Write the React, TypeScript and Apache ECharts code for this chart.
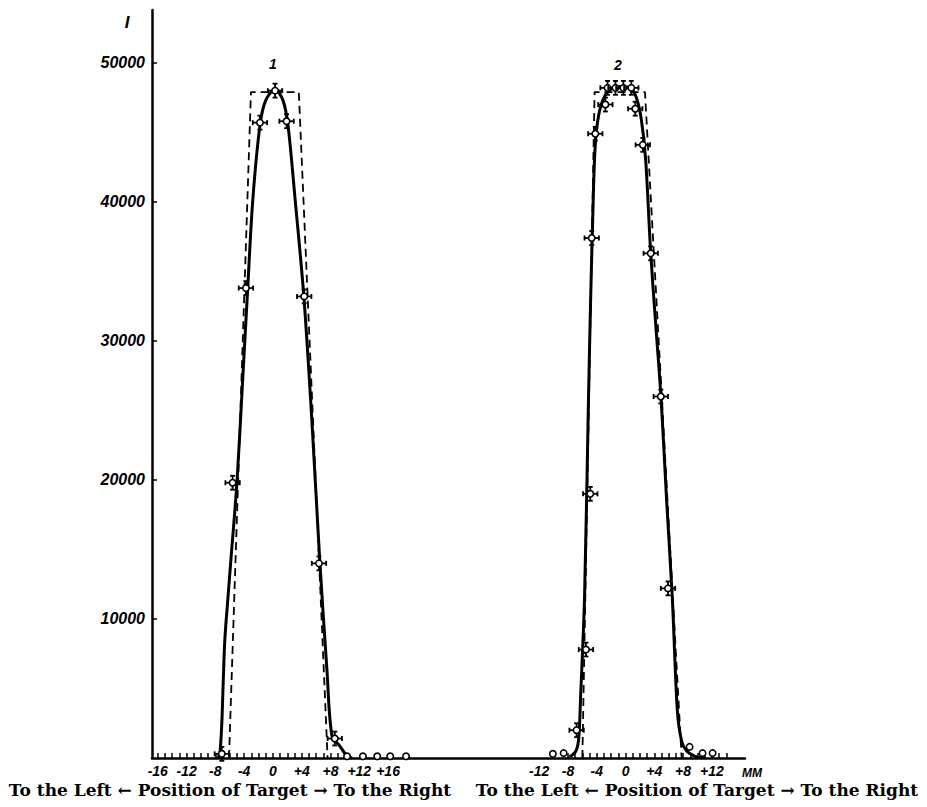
import React, { useEffect, useRef } from "react";
import * as echarts from "echarts";

// Offset (mm on the shared axis) of the zero of the second scan
const OFFSET2 = 49;

// Axis ticks and labels
const yTickValues = [10000, 20000, 30000, 40000, 50000];
const xLabels1 = [-16, -12, -8, -4, 0, 4, 8, 12, 16];
const xLabels2 = [-12, -8, -4, 0, 4, 8, 12];
const xTicks1 = [-16, -15, -14, -13, -12, -11, -10, -9, -8, -7, -6, -5, -4, -3, -2, -1, 0, 1, 2, 3, 4, 5, 6, 7, 8, 9];
const xTicks2 = [-8, -7, -6, -5, -4, -3, -2, -1, 0, 1, 2, 3, 4, 5, 6, 7, 8, 9, 10, 11, 12, 13, 14];

// Scan 1: measured points (position mm, intensity)
const pts1X = [-7.1, -5.6, -3.75, -1.8, 0.3, 1.9, 4.35, 6.4, 8.6];
const pts1Y = [300, 19800, 33800, 45700, 48000, 45800, 33200, 14000, 1400];
const circ1X = [10.3, 12.5, 14.5, 16.3, 18.5];
const circ1Y = [120, 120, 120, 120, 120];
// Scan 1: drawn curve
const curve1X = [-7.6, -7.35, -7.1, -6.9, -6.67, -6.25, -5.83, -5.0, -4.2, -3.5, -2.8, -1.8, -1.0, 0.3, 1.4, 2.1, 3.1, 4.3, 5.4, 6.5, 7.5, 8.2, 9.3, 10.3, 11.0];
const curve1Y = [0, 400, 2500, 5500, 8600, 11500, 14300, 19800, 27200, 33800, 40100, 45500, 47300, 48100, 47300, 45500, 40100, 33200, 24400, 14300, 6400, 1600, 860, 140, 0];
// Scan 1: ideal (dashed) profile
const ideal1X = [-6.1, -3.05, 3.6, 7.6];
const ideal1Y = [0, 47900, 47900, 0];

// Scan 2: measured points (position mm relative to its own zero, intensity)
const pts2X = [-6.8, -5.5, -4.9, -4.7, -4.2, -2.8, -2.5, -1.4, -0.3, 0.8, 1.35, 2.4, 3.5, 4.9, 5.9];
const pts2Y = [2000, 7800, 19000, 37400, 44900, 47000, 48200, 48200, 48200, 48200, 46700, 44100, 36300, 26000, 12200];
const circ2X = [-10.1, -8.6, 8.9, 10.7, 12.1];
const circ2Y = [300, 350, 800, 350, 350];
// Scan 2: drawn curve
const curve2X = [-7.8, -6.9, -6.5, -6.25, -5.7, -5.15, -4.85, -4.6, -4.25, -3.75, -2.9, -1.8, -0.55, 0.7, 1.5, 2.2, 2.8, 3.5, 4.25, 4.95, 5.7, 6.5, 7.2, 7.8, 8.5, 9.6, 11.0];
const curve2Y = [70, 500, 1430, 4300, 11500, 25800, 33000, 38000, 43700, 46200, 47600, 48200, 48300, 48200, 47500, 45900, 43000, 36300, 30800, 25800, 18600, 11500, 3400, 1200, 500, 140, 0];
// Scan 2: ideal (dashed) profile
const ideal2X = [-6.0, -4.3, 2.7, 7.8];
const ideal2Y = [0, 47900, 47900, 0];

// Error bar half-widths
const ERR_X = 1.0;
const ERR_Y = 500;

const FONT_NUM = "'Liberation Sans Narrow', 'Liberation Sans', 'DejaVu Sans Condensed', sans-serif";

export default function App() {
  const ref = useRef<HTMLDivElement>(null);

  useEffect(() => {
    if (!ref.current) return;
    const chart = echarts.init(ref.current, undefined, { renderer: "svg" });

    const zip = (xs: number[], ys: number[], off = 0) => xs.map((x, i) => [x + off, ys[i]]);
    const withErr = (xs: number[], ys: number[], off: number, ex: number, ey: number) =>
      xs.map((x, i) => [x + off, ys[i], ex, ey]);

    const pointData = [
      ...withErr(pts1X, pts1Y, 0, ERR_X, ERR_Y),
      ...withErr(circ1X, circ1Y, 0, 0, 0),
      ...withErr(pts2X, pts2Y, OFFSET2, ERR_X, ERR_Y),
      ...withErr(circ2X, circ2Y, OFFSET2, 0, 0),
    ];

    const labelValues = [...xLabels1, ...xLabels2.map((v) => v + OFFSET2)];
    const tickValues = [...xTicks1, ...xTicks2.map((v) => v + OFFSET2)];

    const fmt = (v: number) => {
      const rel = Math.round(v < 30 ? v : v - OFFSET2);
      if (rel > 0) return "+" + rel;
      if (rel < 0) return "-" + Math.abs(rel);
      return "0";
    };

    const option: any = {
      animation: false,
      backgroundColor: "#fff",
      grid: { left: 152, right: 182, top: 10, bottom: 49, containLabel: false },
      xAxis: {
        type: "value",
        min: -16.8,
        max: 65.6,
        axisLine: { show: true, onZero: false, lineStyle: { color: "#000", width: 2.5 } },
        splitLine: { show: false },
        axisTick: {
          show: true,
          inside: true,
          length: 5,
          customValues: tickValues,
          lineStyle: { color: "#000", width: 1.5 },
        },
        axisLabel: {
          show: true,
          customValues: labelValues,
          formatter: fmt,
          margin: 6,
          color: "#000",
          fontSize: 14,
          fontStyle: "italic",
          fontWeight: "bold",
          fontFamily: FONT_NUM,
        },
      },
      yAxis: {
        type: "value",
        min: 0,
        max: 53800,
        axisLine: { show: true, onZero: false, lineStyle: { color: "#000", width: 2.5 } },
        splitLine: { show: false },
        axisTick: {
          show: true,
          inside: true,
          length: 5,
          customValues: yTickValues,
          lineStyle: { color: "#000", width: 1.5 },
        },
        axisLabel: {
          show: true,
          customValues: yTickValues,
          formatter: (v: number) => String(v),
          margin: 7,
          color: "#000",
          fontSize: 16,
          fontStyle: "italic",
          fontWeight: "bold",
          fontFamily: FONT_NUM,
        },
      },
      series: [
        {
          type: "line",
          data: zip(ideal1X, ideal1Y),
          symbol: "none",
          lineStyle: { color: "#000", width: 1.8, type: [8, 5] },
          z: 1,
        },
        {
          type: "line",
          data: zip(ideal2X, ideal2Y, OFFSET2),
          symbol: "none",
          lineStyle: { color: "#000", width: 1.8, type: [8, 5] },
          z: 1,
        },
        {
          type: "line",
          data: zip(curve1X, curve1Y),
          symbol: "none",
          smooth: 0.3,
          lineStyle: { color: "#000", width: 3 },
          z: 2,
        },
        {
          type: "line",
          data: zip(curve2X, curve2Y, OFFSET2),
          symbol: "none",
          smooth: 0.3,
          lineStyle: { color: "#000", width: 3 },
          z: 2,
        },
        {
          type: "custom",
          data: pointData,
          encode: { x: 0, y: 1 },
          z: 3,
          renderItem: (params: any, api: any) => {
            const x = api.value(0);
            const y = api.value(1);
            const ex = api.value(2);
            const ey = api.value(3);
            const c = api.coord([x, y]);
            const children: any[] = [];
            const st = { stroke: "#000", lineWidth: 1.8 };
            if (ex > 0) {
              const l = api.coord([x - ex, y]);
              const r = api.coord([x + ex, y]);
              children.push({ type: "line", shape: { x1: l[0], y1: c[1], x2: r[0], y2: c[1] }, style: st });
              children.push({ type: "line", shape: { x1: l[0], y1: c[1] - 2.5, x2: l[0], y2: c[1] + 2.5 }, style: st });
              children.push({ type: "line", shape: { x1: r[0], y1: c[1] - 2.5, x2: r[0], y2: c[1] + 2.5 }, style: st });
            }
            if (ey > 0) {
              const b = api.coord([x, y - ey]);
              const t = api.coord([x, y + ey]);
              children.push({ type: "line", shape: { x1: c[0], y1: b[1], x2: c[0], y2: t[1] }, style: st });
              children.push({ type: "line", shape: { x1: c[0] - 2.5, y1: b[1], x2: c[0] + 2.5, y2: b[1] }, style: st });
              children.push({ type: "line", shape: { x1: c[0] - 2.5, y1: t[1], x2: c[0] + 2.5, y2: t[1] }, style: st });
            }
            children.push({
              type: "circle",
              shape: { cx: c[0], cy: c[1], r: 3.2 },
              style: { fill: "#fff", stroke: "#000", lineWidth: 1.6 },
            });
            return { type: "group", children };
          },
        },
      ],
      graphic: [
        {
          type: "text",
          x: 127,
          y: 22,
          style: {
            text: "I",
            fill: "#000",
            font: "italic bold 17px " + FONT_NUM,
            textAlign: "center",
            textVerticalAlign: "middle",
          },
        },
        {
          type: "text",
          x: 273,
          y: 64,
          style: {
            text: "1",
            fill: "#000",
            font: "italic bold 14px " + FONT_NUM,
            textAlign: "center",
            textVerticalAlign: "middle",
          },
        },
        {
          type: "text",
          x: 618,
          y: 65,
          style: {
            text: "2",
            fill: "#000",
            font: "italic bold 14px " + FONT_NUM,
            textAlign: "center",
            textVerticalAlign: "middle",
          },
        },
        {
          type: "text",
          x: 752,
          y: 773,
          style: {
            text: "MM",
            fill: "#000",
            font: "italic bold 12px " + FONT_NUM,
            textAlign: "center",
            textVerticalAlign: "middle",
          },
        },
        {
          type: "text",
          x: 230,
          y: 790,
          style: {
            text: "To the Left \u2190 Position of Target \u2192 To the Right",
            fill: "#000",
            font: "bold 17px 'DejaVu Serif', serif",
            textAlign: "center",
            textVerticalAlign: "middle",
          },
        },
        {
          type: "text",
          x: 697,
          y: 790,
          style: {
            text: "To the Left \u2190 Position of Target \u2192 To the Right",
            fill: "#000",
            font: "bold 17px 'DejaVu Serif', serif",
            textAlign: "center",
            textVerticalAlign: "middle",
          },
        },
      ],
    };

    chart.setOption(option);
    return () => chart.dispose();
  }, []);

  return (
    <div
      ref={ref}
      style={{ position: "fixed", left: 0, top: 0, width: 927, height: 807, background: "#fff" }}
    />
  );
}
